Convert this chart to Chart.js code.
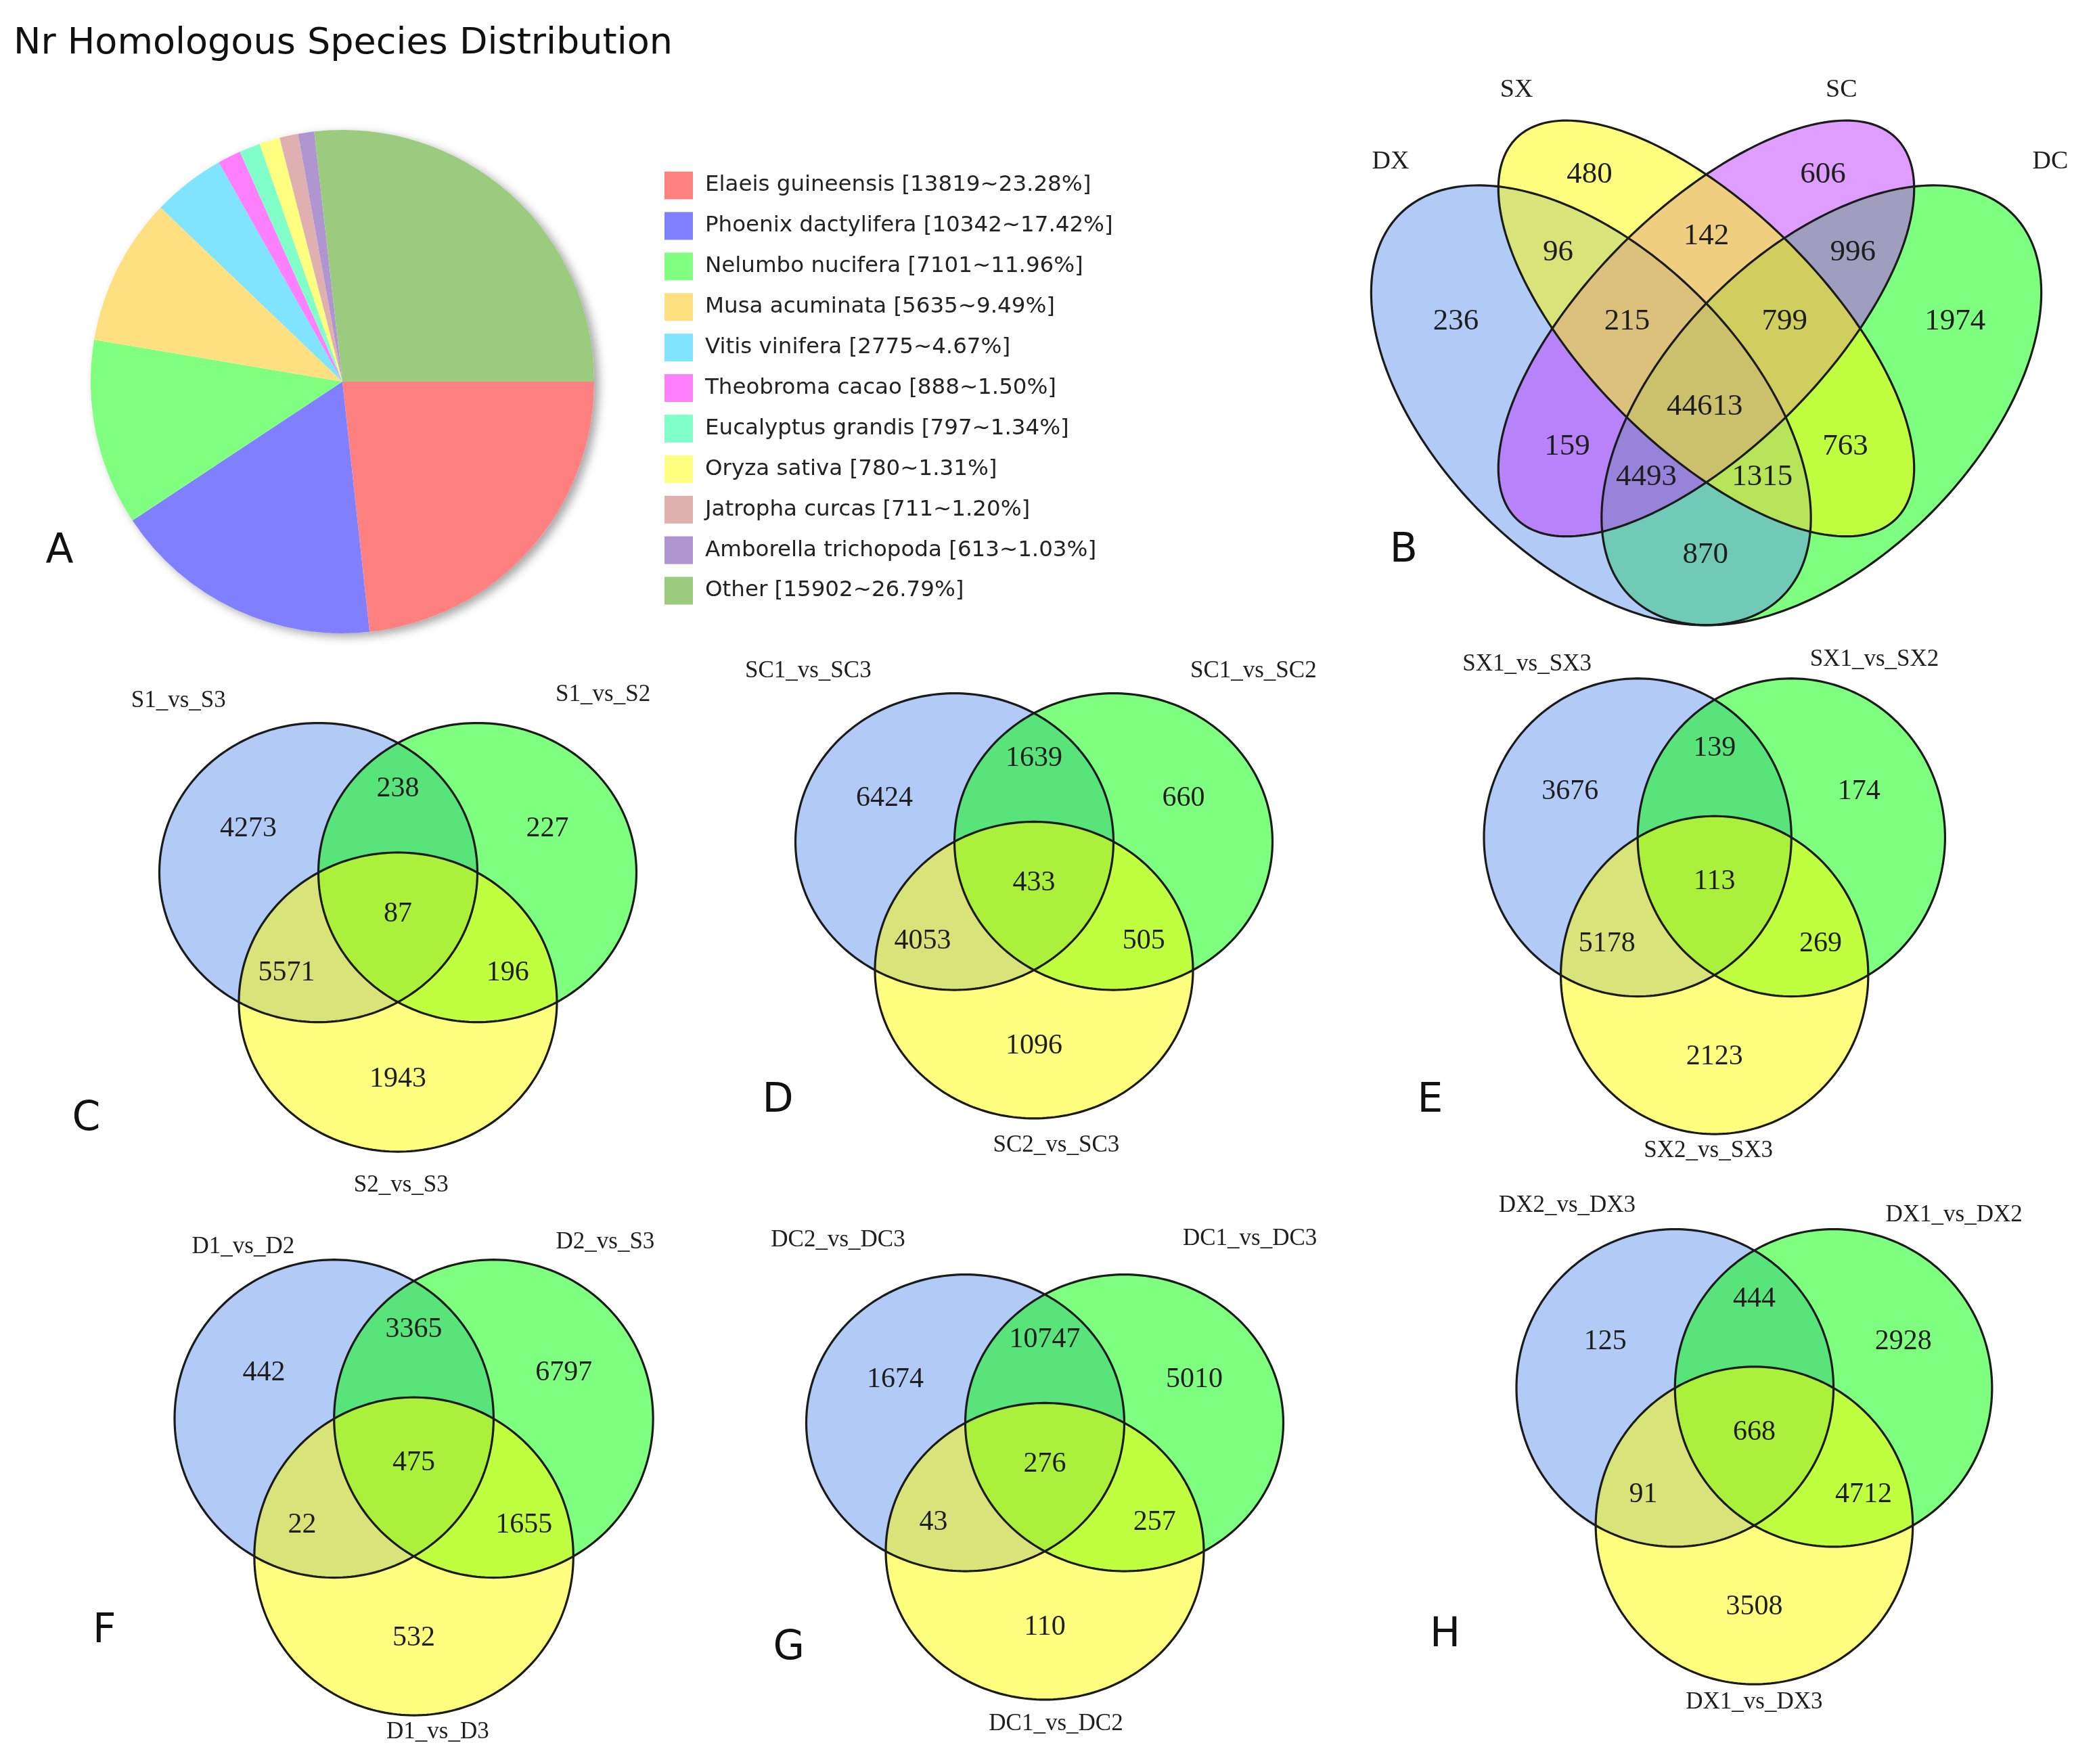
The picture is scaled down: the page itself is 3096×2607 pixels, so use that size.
<!DOCTYPE html>
<html>
<head>
<meta charset="utf-8">
<script src="https://cdn.jsdelivr.net/npm/chart.js@4.4.1/dist/chart.umd.min.js"></script>
<style>
  html, body { margin: 0; padding: 0; background: #fff; }
  #page { position: relative; width: 3096px; height: 2607px; overflow: hidden; background: #fff; }
  #page canvas { position: absolute; }
</style>
</head>
<body>
<div id="page"></div>
<script>
// ---- data: panel A (Nr homologous species) ----
const speciesNames = ['Elaeis guineensis', 'Phoenix dactylifera', 'Nelumbo nucifera', 'Musa acuminata',
  'Vitis vinifera', 'Theobroma cacao', 'Eucalyptus grandis', 'Oryza sativa', 'Jatropha curcas',
  'Amborella trichopoda', 'Other'];
const speciesCounts = [13819, 10342, 7101, 5635, 2775, 888, 797, 780, 711, 613, 15902];
const speciesPct = [23.28, 17.42, 11.96, 9.49, 4.67, 1.50, 1.34, 1.31, 1.20, 1.03, 26.79];
const speciesColors = ['#ff8080', '#8080ff', '#80ff80', '#ffe080', '#80e4ff', '#ff80ff',
  '#80ffc8', '#ffff80', '#e0b0b0', '#b096d0', '#9bcb7f'];

// ---- data: panel B (4 sets) ----
const quadSets = ['DX', 'SX', 'SC', 'DC'];
// regions: SX, SC, DX&SX, SX&SC, SC&DC, DX, DX&SX&SC, SX&SC&DC, DC, all, DX&SC, SX&DC, DX&SC&DC, DX&SX&DC, DX&DC
const quadCounts = [480, 606, 96, 142, 996, 236, 215, 799, 1974, 44613, 159, 763, 4493, 1315, 870];

// ---- data: panels C-H (3 sets; regions A, AB, B, ABC, AC, BC, C) ----
const setsC = ['S1_vs_S3', 'S1_vs_S2', 'S2_vs_S3'];
const countsC = [4273, 238, 227, 87, 5571, 196, 1943];
const setsD = ['SC1_vs_SC3', 'SC1_vs_SC2', 'SC2_vs_SC3'];
const countsD = [6424, 1639, 660, 433, 4053, 505, 1096];
const setsE = ['SX1_vs_SX3', 'SX1_vs_SX2', 'SX2_vs_SX3'];
const countsE = [3676, 139, 174, 113, 5178, 269, 2123];
const setsF = ['D1_vs_D2', 'D2_vs_S3', 'D1_vs_D3'];
const countsF = [442, 3365, 6797, 475, 22, 1655, 532];
const setsG = ['DC2_vs_DC3', 'DC1_vs_DC3', 'DC1_vs_DC2'];
const countsG = [1674, 10747, 5010, 276, 43, 257, 110];
const setsH = ['DX2_vs_DX3', 'DX1_vs_DX2', 'DX1_vs_DX3'];
const countsH = [125, 444, 2928, 668, 91, 4712, 3508];

// ---- layout ----
const S = 3096 / 1568;   // measured on a half-size view
const SERIF = '"Liberation Serif", "Times New Roman", serif';
const SANS = '"DejaVu Sans", sans-serif';
const INK = '#1e1e1e';
const page = document.getElementById('page');

function addCanvas(left, top, w, h) {
  const c = document.createElement('canvas');
  c.width = Math.round(w);
  c.height = Math.round(h);
  c.style.left = Math.round(left) + 'px';
  c.style.top = Math.round(top) + 'px';
  c.style.width = Math.round(w) + 'px';
  c.style.height = Math.round(h) + 'px';
  page.appendChild(c);
  return c;
}

const baseOpts = {
  responsive: false,
  devicePixelRatio: 1,
  animation: false,
  events: [],
};

// ---------- A: pie ----------
const pieDecor = {
  id: 'pieDecor',
  beforeDatasetsDraw(chart) {
    const arc = chart.getDatasetMeta(0).data[0];
    const ctx = chart.ctx;
    ctx.save();
    ctx.shadowColor = 'rgba(0,0,0,0.35)';
    ctx.shadowBlur = 14;
    ctx.shadowOffsetX = 7;
    ctx.shadowOffsetY = 5;
    ctx.fillStyle = '#fff';
    ctx.beginPath();
    ctx.arc(arc.x, arc.y, arc.outerRadius, 0, Math.PI * 2);
    ctx.fill();
    ctx.restore();
  },
  afterDraw(chart) {
    const ctx = chart.ctx;
    ctx.save();
    ctx.fillStyle = '#111';
    ctx.textBaseline = 'middle';
    ctx.font = '54px ' + SANS;
    ctx.fillText('Nr Homologous Species Distribution', 20, 65);
    ctx.font = '32.5px ' + SANS;
    speciesNames.forEach((name, i) => {
      const yy = 274 + i * 59.9;
      ctx.fillStyle = speciesColors[i];
      ctx.fillRect(982, yy - 20.5, 42, 41);
      ctx.fillStyle = '#222';
      ctx.fillText(name + ' [' + speciesCounts[i] + '~' + speciesPct[i].toFixed(2) + '%]', 1042, yy);
    });
    ctx.font = '60px ' + SANS;
    ctx.fillStyle = '#111';
    ctx.textAlign = 'center';
    ctx.fillText('A', 88, 815);
    ctx.restore();
  }
};

new Chart(addCanvas(0, 0, 1900, 960), {
  type: 'pie',
  data: {
    labels: speciesNames,
    datasets: [{ data: speciesCounts, backgroundColor: speciesColors, borderWidth: 0, hoverOffset: 0, radius: 372 }]
  },
  options: {
    ...baseOpts,
    rotation: 90,
    layout: { padding: { left: 134, top: 192, right: 1900 - 878, bottom: 960 - 936 } },
    plugins: { legend: { display: false }, tooltip: { enabled: false } }
  },
  plugins: [pieDecor]
});

// ---------- venn helpers ----------
function shapePath(ctx, xs, ys, s) {
  const c = Math.cos(s.rot || 0), sn = Math.sin(s.rot || 0);
  ctx.beginPath();
  for (let k = 0; k <= 240; k++) {
    const t = k / 240 * Math.PI * 2;
    const ex = s.rx * Math.cos(t), ey = s.ry * Math.sin(t);
    const px = xs.getPixelForValue(s.cx + ex * c - ey * sn);
    const py = ys.getPixelForValue(s.cy + ex * sn + ey * c);
    if (k === 0) ctx.moveTo(px, py); else ctx.lineTo(px, py);
  }
  ctx.closePath();
}

function vennPlugin(cfg) {
  return {
    id: 'vennDecor',
    beforeDatasetsDraw(chart) {
      const { ctx, scales: { x, y } } = chart;
      ctx.save();
      ctx.globalAlpha = 0.5;
      cfg.shapes.forEach(s => { shapePath(ctx, x, y, s); ctx.fillStyle = s.color; ctx.fill(); });
      ctx.globalAlpha = 1;
      ctx.lineWidth = 3.2;
      ctx.strokeStyle = '#1b1b1b';
      cfg.shapes.forEach(s => { shapePath(ctx, x, y, s); ctx.stroke(); });
      ctx.restore();
    },
    afterDatasetsDraw(chart) {
      const { ctx, scales: { x, y } } = chart;
      const pts = chart.getDatasetMeta(0).data;
      ctx.save();
      ctx.textAlign = 'center';
      ctx.textBaseline = 'middle';
      ctx.fillStyle = INK;
      ctx.font = cfg.countFont;
      pts.forEach((p, i) => ctx.fillText(String(cfg.counts[i]), p.x, p.y));
      ctx.font = cfg.setFont;
      cfg.sets.forEach((name, i) => {
        ctx.fillText(name, x.getPixelForValue(cfg.setPos[i][0]), y.getPixelForValue(cfg.setPos[i][1]));
      });
      ctx.font = '60px ' + SANS;
      ctx.fillStyle = '#111';
      ctx.fillText(cfg.letter, x.getPixelForValue(cfg.letterPos[0]), y.getPixelForValue(cfg.letterPos[1]));
      ctx.restore();
    }
  };
}

function vennChart(canvas, cfg, xr, yr, reverse) {
  new Chart(canvas, {
    type: 'scatter',
    data: {
      datasets: [{
        data: cfg.regionPos.map((p, i) => ({ x: p[0], y: p[1], v: cfg.counts[i] })),
        pointRadius: 0,
        showLine: false
      }]
    },
    options: {
      ...baseOpts,
      layout: { padding: 0 },
      scales: {
        x: { type: 'linear', min: xr[0], max: xr[1], display: false },
        y: { type: 'linear', min: yr[0], max: yr[1], reverse: reverse, display: false }
      },
      plugins: { legend: { display: false }, tooltip: { enabled: false } }
    },
    plugins: [vennPlugin(cfg)]
  });
}

// ---------- B: 4-set ellipses (unit square, y up) ----------
const Q = Math.PI / 4;
vennChart(addCanvas(1954, 54, 1135, 965), {
  sets: quadSets,
  counts: quadCounts,
  shapes: [
    { cx: 0.65, cy: 0.47, rx: 0.352, ry: 0.20, rot: Q, color: '#00ff00' },         // DC
    { cx: 0.35, cy: 0.47, rx: 0.352, ry: 0.20, rot: -Q, color: '#6495ed' },        // DX
    { cx: 0.50, cy: 0.57, rx: 0.35, ry: 0.155, rot: Q, color: '#bf3eff' },         // SC
    { cx: 0.50, cy: 0.57, rx: 0.35, ry: 0.155, rot: -Q, color: '#ffff00' }         // SX
  ],
  regionPos: [[0.348, 0.770], [0.652, 0.770], [0.307, 0.669], [0.5, 0.690], [0.691, 0.669],
    [0.174, 0.579], [0.397, 0.579], [0.602, 0.579], [0.824, 0.579], [0.498, 0.468],
    [0.319, 0.416], [0.681, 0.416], [0.422, 0.376], [0.573, 0.376], [0.499, 0.275]],
  setPos: [[0.089, 0.787], [0.253, 0.880], [0.676, 0.880], [0.948, 0.787]],
  letter: 'B',
  letterPos: [0.106, 0.280],
  countFont: '45px ' + SERIF,
  setFont: '38px ' + SERIF
}, [0, 1], [0.1, 0.95], false);

// ---------- C-H: 3-set circles (unit = radius, y down) ----------
const circles3 = [
  { cx: -0.5, cy: 0, rx: 1, ry: 1, color: '#6495ed' },
  { cx: 0.5, cy: 0, rx: 1, ry: 1, color: '#00ff00' },
  { cx: 0, cy: 0.866, rx: 1, ry: 1, color: '#ffff00' }
];
const region3Pos = [[-0.94, -0.29], [0, -0.56], [0.94, -0.29], [0, 0.28], [-0.70, 0.67], [0.69, 0.67], [0, 1.38]];
const XR = [-2.2, 2.0], YR = [-1.45, 2.3];

const venn3Panels = [
  { letter: 'C', sets: setsC, counts: countsC, cx: 298, cy: 653, rx: 119, ry: 112,
    setPos: [[-1.38, -1.15], [1.29, -1.19], [0.02, 2.09]], letterPos: [-1.96, 1.65] },
  { letter: 'D', sets: setsD, counts: countsD, cx: 774, cy: 630, rx: 119, ry: 111,
    setPos: [[-1.42, -1.15], [1.38, -1.15], [0.14, 2.05]], letterPos: [-1.61, 1.75] },
  { letter: 'E', sets: setsE, counts: countsE, cx: 1283, cy: 627, rx: 115, ry: 119,
    setPos: [[-1.22, -1.09], [1.04, -1.12], [-0.04, 1.97]], letterPos: [-1.85, 1.66] },
  { letter: 'F', sets: setsF, counts: countsF, cx: 310, cy: 1062, rx: 119.4, ry: 119,
    setPos: [[-1.07, -1.08], [1.20, -1.11], [0.15, 1.97]], letterPos: [-1.94, 1.34] },
  { letter: 'G', sets: setsG, counts: countsG, cx: 782, cy: 1065, rx: 119, ry: 111,
    setPos: [[-1.30, -1.23], [1.29, -1.24], [0.07, 2.03]], letterPos: [-1.61, 1.52] },
  { letter: 'H', sets: setsH, counts: countsH, cx: 1313, cy: 1039, rx: 118.7, ry: 118.8,
    setPos: [[-1.18, -1.15], [1.26, -1.09], [0, 1.98]], letterPos: [-1.95, 1.56] }
];

venn3Panels.forEach(p => {
  const left = (p.cx + XR[0] * p.rx) * S;
  const top = (p.cy + YR[0] * p.ry) * S;
  const w = (XR[1] - XR[0]) * p.rx * S;
  const h = (YR[1] - YR[0]) * p.ry * S;
  vennChart(addCanvas(left, top, w, h), {
    sets: p.sets,
    counts: p.counts,
    shapes: circles3,
    regionPos: region3Pos,
    setPos: p.setPos,
    letter: p.letter,
    letterPos: p.letterPos,
    countFont: '42px ' + SERIF,
    setFont: '35px ' + SERIF
  }, XR, YR, true);
});
</script>
</body>
</html>
